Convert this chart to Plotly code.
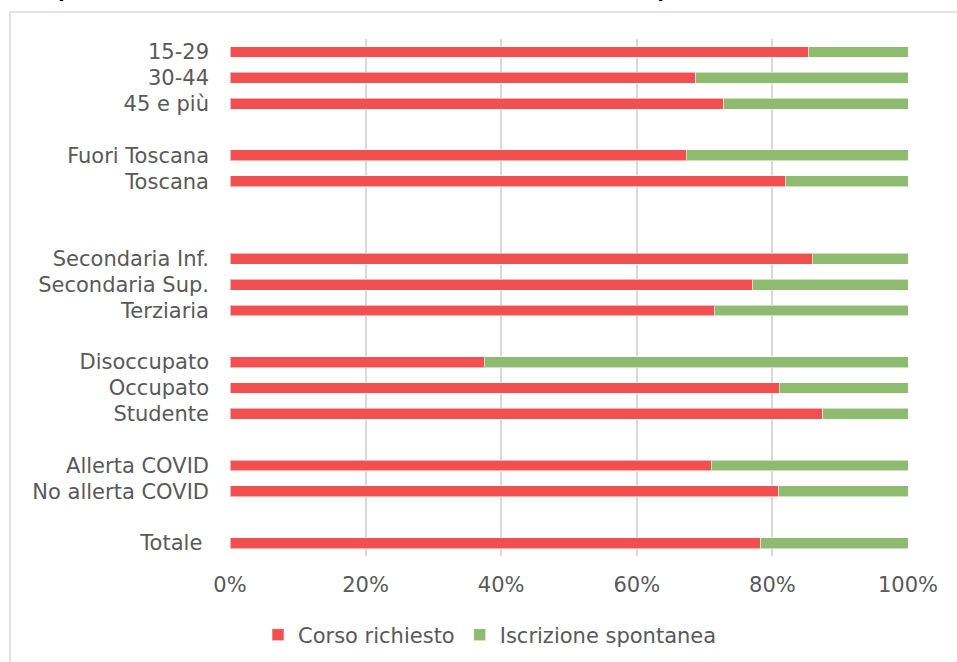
import plotly.graph_objects as go

categories = ["15-29", "30-44", "45 e più", "", "Fuori Toscana", "Toscana", "", "",
              "Secondaria Inf.", "Secondaria Sup.", "Terziaria", "",
              "Disoccupato", "Occupato", "Studente", "",
              "Allerta COVID", "No allerta COVID", "", "Totale\u00a0"]
corso_richiesto = [0.853, 0.687, 0.728, None, 0.673, 0.819, None, None,
                   0.859, 0.770, 0.714, None,
                   0.375, 0.810, 0.874, None,
                   0.710, 0.809, None, 0.783]
iscrizione_spontanea = [None if v is None else round(1 - v, 3) for v in corso_richiesto]
x_ticks = [0, 0.2, 0.4, 0.6, 0.8, 1.0]
x_tick_labels = ["0%", "20%", "40%", "60%", "80%", "100%"]

rows = list(range(len(categories)))
RED = "#F25050"
GREEN = "#8EBB70"
TXT = "#595959"

fig = go.Figure()
fig.add_trace(go.Bar(y=rows, x=corso_richiesto, orientation="h", name="Corso richiesto",
                     marker=dict(color=RED, line=dict(color="rgba(255,255,255,0.55)", width=1)),
                     width=0.42))
fig.add_trace(go.Bar(y=rows, x=iscrizione_spontanea, orientation="h", name="Iscrizione spontanea",
                     marker=dict(color=GREEN, line=dict(color="rgba(255,255,255,0.55)", width=1)),
                     width=0.42))

L, R, T, B = 230, 49, 39, 106
W, H = 957, 662
pw, ph = W - L - R, H - T - B

def px_x(p):
    return (p - L) / pw

def px_y(p):
    return (H - B - p) / ph

fig.update_layout(
    barmode="stack",
    width=W, height=H,
    margin=dict(l=L, r=R, t=T, b=B, pad=0, autoexpand=False),
    paper_bgcolor="white", plot_bgcolor="white",
    font=dict(family="DejaVu Sans", size=21, color=TXT),
    showlegend=True,
    legend=dict(orientation="h", x=px_x(490), xanchor="center", y=px_y(635), yanchor="middle",
                font=dict(size=21, color=TXT), itemwidth=30, traceorder="normal"),
    xaxis=dict(range=[0, 1], tickvals=x_ticks, ticktext=x_tick_labels, showgrid=True,
               gridcolor="#D9D9D9", gridwidth=2, zeroline=False, showline=False,
               ticks="", ticklabelstandoff=14, fixedrange=True),
    yaxis=dict(range=[19.5, -0.5], tickvals=rows, ticktext=categories, showgrid=False,
               zeroline=False, showline=False, ticks="", ticklabelstandoff=20, fixedrange=True),
    shapes=[dict(type="rect", xref="paper", yref="paper",
                 x0=px_x(10), x1=px_x(1000), y0=px_y(700), y1=px_y(12),
                 line=dict(color="#D9D9D9", width=1.5), fillcolor="rgba(0,0,0,0)", layer="below")],
    annotations=[
        dict(text="<b>(</b>", xref="paper", yref="paper", x=px_x(60), y=px_y(-9),
             xanchor="center", yanchor="middle", showarrow=False,
             font=dict(family="DejaVu Sans", size=22, color="black")),
        dict(text="<b>)</b>", xref="paper", yref="paper", x=px_x(662), y=px_y(-9),
             xanchor="center", yanchor="middle", showarrow=False,
             font=dict(family="DejaVu Sans", size=22, color="black")),
    ],
)

fig.write_html("out.html")
